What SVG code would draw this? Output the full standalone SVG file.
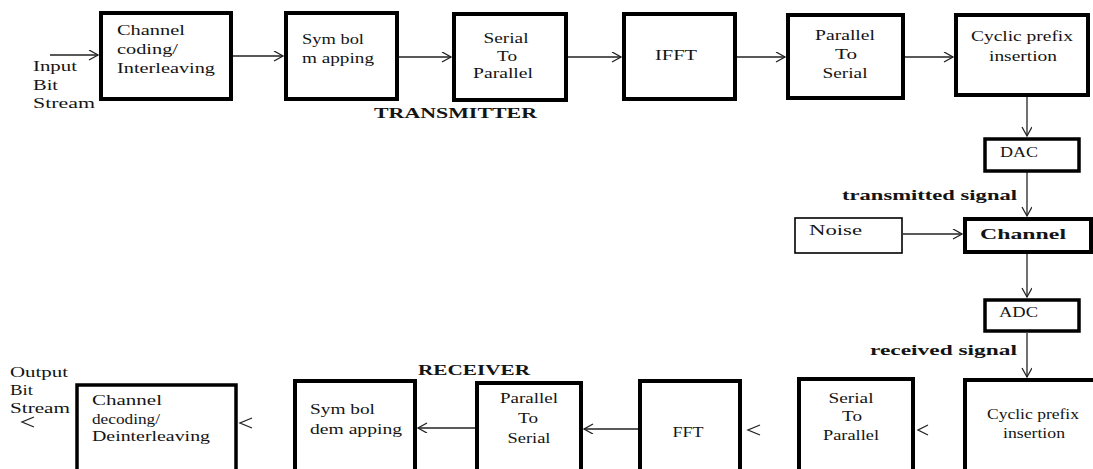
<svg xmlns="http://www.w3.org/2000/svg" width="1093" height="469" viewBox="0 0 1093 469">
<defs>
<marker id="ah" markerWidth="12" markerHeight="12" refX="10" refY="5" orient="auto" markerUnits="userSpaceOnUse">
<path d="M1,0 L10,5 L1,10" fill="none" stroke="#222" stroke-width="1.3"/>
</marker>
<style>
.box{fill:#fff;stroke:#000;stroke-width:4}
.thin{fill:#fff;stroke:#000;stroke-width:1.6}
.ln{fill:none;stroke:#222;stroke-width:1.3}
text{font-family:"Liberation Serif","Times New Roman",serif;font-size:15px;fill:#141414}
.b{font-weight:bold}
.c{text-anchor:middle}
</style>
</defs>
<rect width="1093" height="469" fill="#fff"/>
<g id="connectors">
<line class="ln" x1="50" y1="55" x2="98" y2="55" marker-end="url(#ah)"/>
<line class="ln" x1="233" y1="56" x2="283" y2="56" marker-end="url(#ah)"/>
<line class="ln" x1="399" y1="57" x2="451" y2="57" marker-end="url(#ah)"/>
<line class="ln" x1="568" y1="57" x2="621" y2="57" marker-end="url(#ah)"/>
<line class="ln" x1="737" y1="57" x2="785" y2="57" marker-end="url(#ah)"/>
<line class="ln" x1="905" y1="57" x2="953" y2="57" marker-end="url(#ah)"/>
<line class="ln" x1="1027" y1="97" x2="1027" y2="136" marker-end="url(#ah)"/>
<line class="ln" x1="1027" y1="172" x2="1027" y2="216" marker-end="url(#ah)"/>
<line class="ln" x1="903" y1="234" x2="962" y2="234" marker-end="url(#ah)"/>
<line class="ln" x1="1027" y1="254" x2="1027" y2="297" marker-end="url(#ah)"/>
<line class="ln" x1="1027" y1="333" x2="1027" y2="377" marker-end="url(#ah)"/>
<path class="ln" d="M928,425 L918,430 L928,435"/>
<path class="ln" d="M760,425 L748,430 L760,435"/>
<line class="ln" x1="638" y1="429" x2="584" y2="429" marker-end="url(#ah)"/>
<line class="ln" x1="475" y1="428" x2="418" y2="428" marker-end="url(#ah)"/>
<path class="ln" d="M252,418 L240,423 L252,428"/>
<path class="ln" d="M34,417 L22,422 L34,427"/>
</g>
<g id="in-label">
<text x="33" y="71" textLength="44" lengthAdjust="spacingAndGlyphs">Input</text>
<text x="33" y="90" textLength="25" lengthAdjust="spacingAndGlyphs">Bit</text>
<text x="33" y="108" textLength="62" lengthAdjust="spacingAndGlyphs">Stream</text>
</g>
<g id="chan-coding">
<rect class="box" x="101" y="13" width="130" height="86"/>
<text x="117" y="35" textLength="68" lengthAdjust="spacingAndGlyphs">Channel</text>
<text x="117" y="54" textLength="61" lengthAdjust="spacingAndGlyphs">coding/</text>
<text x="117" y="73" textLength="98" lengthAdjust="spacingAndGlyphs">Interleaving</text>
</g>
<g id="sym-map">
<rect class="box" x="286" y="13" width="111" height="86"/>
<text x="302" y="44" textLength="62" lengthAdjust="spacingAndGlyphs">Sym bol</text>
<text x="302" y="63" textLength="72" lengthAdjust="spacingAndGlyphs">m apping</text>
</g>
<g id="s2p-tx">
<rect class="box" x="454" y="14" width="112" height="86"/>
<text class="c" x="506" y="43" textLength="45" lengthAdjust="spacingAndGlyphs">Serial</text>
<text class="c" x="507" y="61" textLength="20" lengthAdjust="spacingAndGlyphs">To</text>
<text class="c" x="503" y="78" textLength="60" lengthAdjust="spacingAndGlyphs">Parallel</text>
</g>
<g id="ifft">
<rect class="box" x="624" y="14" width="111" height="85"/>
<text class="c" x="676" y="60" textLength="42" lengthAdjust="spacingAndGlyphs">IFFT</text>
</g>
<g id="p2s-tx">
<rect class="box" x="788" y="15" width="115" height="83"/>
<text class="c" x="845" y="40" textLength="60" lengthAdjust="spacingAndGlyphs">Parallel</text>
<text class="c" x="846" y="59" textLength="22" lengthAdjust="spacingAndGlyphs">To</text>
<text class="c" x="845" y="78" textLength="45" lengthAdjust="spacingAndGlyphs">Serial</text>
</g>
<g id="cp-ins">
<rect class="box" x="956" y="15" width="132" height="80"/>
<text class="c" x="1022" y="41" textLength="102" lengthAdjust="spacingAndGlyphs">Cyclic prefix</text>
<text class="c" x="1023" y="61" textLength="68" lengthAdjust="spacingAndGlyphs">insertion</text>
</g>
<g id="tx-label">
<text class="b" x="374" y="118" textLength="163" lengthAdjust="spacingAndGlyphs">TRANSMITTER</text>
</g>
<g id="dac">
<rect class="box" x="985" y="139" width="94" height="32" style="stroke-width:3.5"/>
<text x="1000" y="157" textLength="38" lengthAdjust="spacingAndGlyphs">DAC</text>
</g>
<g id="tx-signal">
<text class="b" x="842" y="200" textLength="175" lengthAdjust="spacingAndGlyphs">transmitted signal</text>
</g>
<g id="noise">
<rect class="thin" x="795" y="218" width="107" height="35"/>
<text x="809" y="235" textLength="53" lengthAdjust="spacingAndGlyphs">Noise</text>
</g>
<g id="channel">
<rect class="box" x="965" y="219" width="126" height="33"/>
<text class="b" x="980" y="239" textLength="86" lengthAdjust="spacingAndGlyphs">Channel</text>
</g>
<g id="adc">
<rect class="box" x="985" y="300" width="94" height="31" style="stroke-width:3.5"/>
<text x="999" y="317" textLength="39" lengthAdjust="spacingAndGlyphs">ADC</text>
</g>
<g id="rx-signal">
<text class="b" x="870" y="355" textLength="147" lengthAdjust="spacingAndGlyphs">received signal</text>
</g>
<g id="rx-label">
<text class="b" x="418" y="375" textLength="112" lengthAdjust="spacingAndGlyphs">RECEIVER</text>
</g>
<g id="cp-rm">
<rect class="box" x="965" y="380" width="132" height="95"/>
<text class="c" x="1033" y="419" textLength="92" lengthAdjust="spacingAndGlyphs">Cyclic prefix</text>
<text class="c" x="1034" y="438" textLength="62" lengthAdjust="spacingAndGlyphs">insertion</text>
</g>
<g id="s2p-rx">
<rect class="box" x="799" y="379" width="114" height="96"/>
<text class="c" x="851" y="403" textLength="45" lengthAdjust="spacingAndGlyphs">Serial</text>
<text class="c" x="852" y="421" textLength="20" lengthAdjust="spacingAndGlyphs">To</text>
<text class="c" x="851" y="440" textLength="56" lengthAdjust="spacingAndGlyphs">Parallel</text>
</g>
<g id="fft">
<rect class="box" x="640" y="381" width="100" height="94"/>
<text class="c" x="688" y="437" textLength="31" lengthAdjust="spacingAndGlyphs">FFT</text>
</g>
<g id="p2s-rx">
<rect class="box" x="477" y="383" width="104" height="92"/>
<text class="c" x="529" y="403" textLength="58" lengthAdjust="spacingAndGlyphs">Parallel</text>
<text class="c" x="528" y="423" textLength="20" lengthAdjust="spacingAndGlyphs">To</text>
<text class="c" x="529" y="443" textLength="43" lengthAdjust="spacingAndGlyphs">Serial</text>
</g>
<g id="sym-demap">
<rect class="box" x="295" y="381" width="120" height="94"/>
<text x="310" y="414" textLength="65" lengthAdjust="spacingAndGlyphs">Sym bol</text>
<text x="310" y="434" textLength="92" lengthAdjust="spacingAndGlyphs">dem apping</text>
</g>
<g id="chan-decoding">
<rect class="box" x="77" y="385" width="159" height="90" style="stroke-width:3.5"/>
<text x="92" y="405" textLength="70" lengthAdjust="spacingAndGlyphs">Channel</text>
<text x="92" y="424" textLength="68" lengthAdjust="spacingAndGlyphs">decoding/</text>
<text x="92" y="441" textLength="118" lengthAdjust="spacingAndGlyphs">Deinterleaving</text>
</g>
<g id="out-label">
<text x="10" y="377" textLength="58" lengthAdjust="spacingAndGlyphs">Output</text>
<text x="10" y="395" textLength="23" lengthAdjust="spacingAndGlyphs">Bit</text>
<text x="10" y="413" textLength="60" lengthAdjust="spacingAndGlyphs">Stream</text>
</g>
</svg>
